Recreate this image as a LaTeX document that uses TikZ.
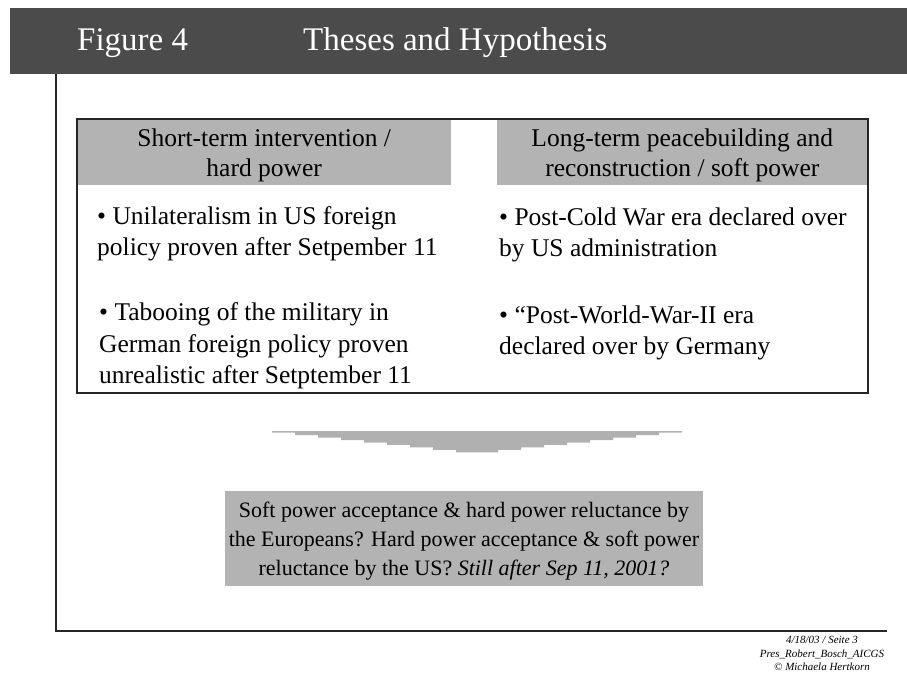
\documentclass[tikz,border=0pt]{standalone}
\usepackage{fontspec}
\setmainfont{Liberation Serif}
\usetikzlibrary{positioning}
\definecolor{bandgray}{HTML}{4B4B4B}
\definecolor{boxgray}{HTML}{B3B3B3}
\definecolor{framegray}{HTML}{262626}
\definecolor{arrowgray}{HTML}{B0B0B0}
\tikzset{
  headbox/.style={fill=boxgray, inner sep=0pt},
  headtext/.style={inner sep=0pt, align=center, font=\fontsize{25.5}{30}\selectfont},
  bullettext/.style={inner sep=0pt, align=left, anchor=west, font=\fontsize{25.5}{31.5}\selectfont},
  titletext/.style={inner sep=0pt, anchor=base west, text=white, font=\fontsize{33}{40}\selectfont},
}
\begin{document}
\begin{tikzpicture}[x=1pt, y=-1pt]
  \useasboundingbox (0,0) rectangle (907,673);
  \def\Frame{(77,119) rectangle (868,393)}

  \fill[bandgray] (10,8) rectangle (907,74); % title band
  \node[titletext] (fig) at (77,50) {Figure 4};
  \node[titletext] (title) at (303,50) {Theses and Hypothesis};

  \coordinate (top) at (56,74);
  \coordinate (corner) at (56,631);
  \coordinate (end) at (887,631);
  \draw[line width=2pt, framegray] (top) -- (corner) -- (end);

  \node[headbox, minimum width=374, minimum height=66, anchor=north west] (short) at (77,119) {};
  \node[headbox, minimum width=371, minimum height=66, anchor=north east] (long) at (868,119) {};
  \node[headtext, yshift=-3pt] (shorttext) at (short) {Short-term intervention /\\hard power};
  \node[headtext, yshift=-3pt] (longtext) at (long) {Long-term peacebuilding and\\reconstruction / soft power};
  \draw[line width=2.5pt, framegray] \Frame; % outline

  \node[bullettext] (uni) at (97,234) {• Unilateralism in US foreign\\policy proven after Setpember 11};
  \node[bullettext] (taboo) at (99,346) {• Tabooing of the military in\\German foreign policy proven\\unrealistic after Setptember 11};
  \node[bullettext] (cold) at (499,235) {• Post-Cold War era declared over\\by US administration};
  \node[bullettext] (ww2) at (499,333) {• “Post-World-War-II era\\declared over by Germany};

  \fill[arrowgray] (272,431) -- (682,431) -- (682,432.7) % stepped arrow
    foreach \k in {1,...,8} { -- ({682-23*\k},{432.7+2.45*(\k-1)}) -- ({682-23*\k},{432.7+2.45*\k}) }
    foreach \k in {8,7,...,1} { -- ({272+23*\k},{432.7+2.45*\k}) -- ({272+23*\k},{432.7+2.45*(\k-1)}) }
    -- (272,432.7) -- cycle;

  \node[headbox, minimum width=478, minimum height=95] (question) at (464,538.5) {};
  \node[headtext, font=\fontsize{22}{29}\selectfont, yshift=-2.5pt] (questiontext) at (question)
    {Soft power acceptance \& hard power reluctance by\\the Europeans? Hard power acceptance \& soft power\\reluctance by the US? \textit{Still after Sep 11, 2001?}};

  \node[inner sep=0pt, align=center, font=\fontsize{11}{13.5}\selectfont\itshape, anchor=north] (foot) at (822,636)
    {4/18/03 / Seite 3\\Pres\_Robert\_Bosch\_AICGS\\© Michaela Hertkorn};
\end{tikzpicture}
\end{document}
